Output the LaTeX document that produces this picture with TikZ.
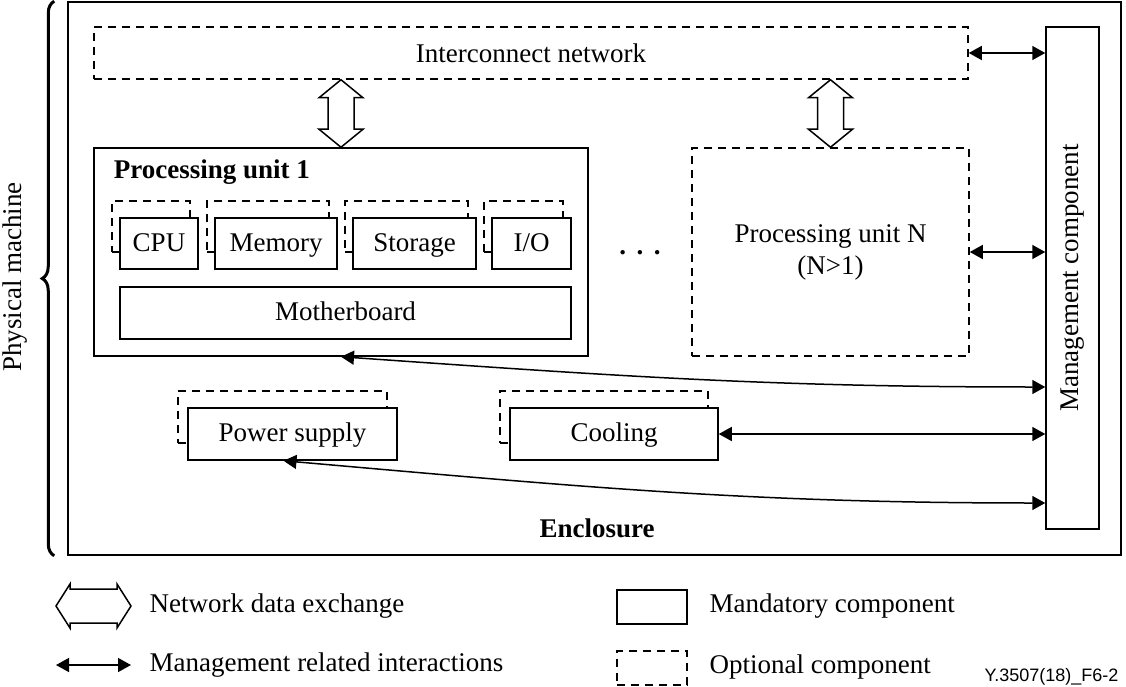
\documentclass[tikz,border=0pt]{standalone}
\usepackage{fontspec}
\setmainfont{Liberation Serif}
\newfontfamily\figlabelfont{Liberation Sans}
\usetikzlibrary{arrows.meta,decorations.pathreplacing}

\tikzset{
  box/.style={draw, line width=1.5pt, inner sep=0pt},
  compbox/.style={box, fill=white, text height=20pt, text depth=5pt},
  optbox/.style={draw, line width=1.5pt, dash pattern=on 8pt off 6pt, inner sep=0pt},
  mgmtarrow/.style={line width=1.5pt, {Triangle[length=13pt,width=14pt]}-{Triangle[length=13pt,width=14pt]}},
  netarrow/.style={line width=1.5pt, fill=white, line join=miter},
}

% hollow arrow from #1 (upper tip) to #2 (lower tip)
\newcommand{\netlink}[2]{%
  \draw[netarrow] (#1) -- ++(22,18) -- ++(-9,0) -- ([shift={(13,-18)}]#2) -- ++(9,0)
    -- (#2) -- ++(-22,-18) -- ++(9,0) -- ([shift={(-13,18)}]#1) -- ++(-9,0) -- cycle;}

\begin{document}
\begin{tikzpicture}[x=1pt, y=-1pt, font=\fontsize{27}{32}\selectfont]
\useasboundingbox (0,0) rectangle (1126,687);

% draw enclosure and brace
\node[box, minimum width=1053pt, minimum height=553pt] (encl) at (594.5,278.5) {};
\draw[line width=3pt, decorate, decoration={brace, amplitude=12pt}]
  ([xshift=-13pt]encl.south west) -- ([xshift=-13pt]encl.north west);
\node[rotate=90] (phys) at (15,277) {Physical machine};
\node (encllabel) at (597,528) {\textbf{Enclosure}};

% draw main boxes
\node[optbox, minimum width=874pt, minimum height=52pt] (interconnect) at (531,53) {Interconnect network};
\node[box, minimum width=53pt, minimum height=502pt] (mgmt) at (1072.5,278) {};
\node[rotate=90] (mgmtlabel) at (mgmt) {Management component};
\node[box, minimum width=494pt, minimum height=208pt] (pu1) at (341,252) {};
\node[anchor=west] (pu1label) at ([shift={(17,25)}]pu1.north west) {\textbf{Processing unit 1}};
\node[optbox, minimum width=277pt, minimum height=208pt, align=center] (pun) at (830.5,252)
  {Processing unit N\\(N>1)};
\node (dots) at (640,253) {\textbf{.\hspace{10.5pt}.\hspace{10.5pt}.}};

% draw components
\foreach \name/\x/\w/\txt in {cpu/159/78/CPU, mem/276/122/Memory, stor/414.5/123/Storage, io/531.5/79/{I/O}}{
  \node[optbox, minimum width=\w pt, minimum height=51pt] (\name-opt) at (\x-8,226.5) {};
  \node[compbox, minimum width=\w pt, minimum height=51pt] (\name) at (\x,243.5) {\txt};
}
\node[compbox, minimum width=451pt, minimum height=52pt] (mboard) at (345.5,313) {Motherboard};
\foreach \name/\x/\w/\txt in {power/292.5/209/Power supply, cooling/614/208/Cooling}{
  \node[optbox, minimum width=\w pt, minimum height=52pt] (\name-opt) at (\x-10,417) {};
  \node[compbox, minimum width=\w pt, minimum height=52pt] (\name) at (\x,434) {\txt};
}

% network data exchange
\coordinate (ic1) at (interconnect.south -| pu1.north);
\coordinate (icn) at (interconnect.south -| pun.north);
\netlink{ic1}{pu1.north}
\netlink{icn}{pun.north}

% management interactions
\draw[mgmtarrow] (interconnect.east) -- (interconnect.east -| mgmt.west);
\draw[mgmtarrow] (pun.east) -- (pun.east -| mgmt.west);
\draw[mgmtarrow] (cooling.east) -- (cooling.east -| mgmt.west);
\draw[mgmtarrow] (pu1.south) to[out=-4, in=180] ([yshift=-109pt]mgmt.west);
\draw[mgmtarrow] ([xshift=-9pt]power.south) to[out=-5, in=180] ([yshift=-225pt]mgmt.west);

% legend
\coordinate (lna) at (56,606);
\coordinate (lnb) at (131,606);
\draw[netarrow] (lna) -- ++(14,-22) -- ++(0,5) -- ([shift={(-14,-17)}]lnb) -- ++(0,-5)
  -- (lnb) -- ++(-14,22) -- ++(0,-5) -- ([shift={(14,17)}]lna) -- ++(0,5) -- cycle;
\node[anchor=west] (lgnet) at (146,606) {Network data exchange};
\coordinate (lma) at (56,665);
\coordinate (lmb) at (131,665);
\draw[mgmtarrow] (lma) -- (lmb);
\node[anchor=west] (lgmgmt) at (146,665) {Management related interactions};
\node[box, minimum width=70pt, minimum height=34pt] (lgmand) at (652,607) {};
\node[anchor=west] (lgmandtxt) at (706,606) {Mandatory component};
\node[optbox, minimum width=70pt, minimum height=34pt] (lgopt) at (652,668) {};
\node[anchor=west] (lgopttxt) at (706,667) {Optional component};
\node[anchor=east, font={\figlabelfont\fontsize{18}{20}\selectfont}] (figid) at (1122,677) {Y.3507(18)\_F6-2};

\end{tikzpicture}
\end{document}
